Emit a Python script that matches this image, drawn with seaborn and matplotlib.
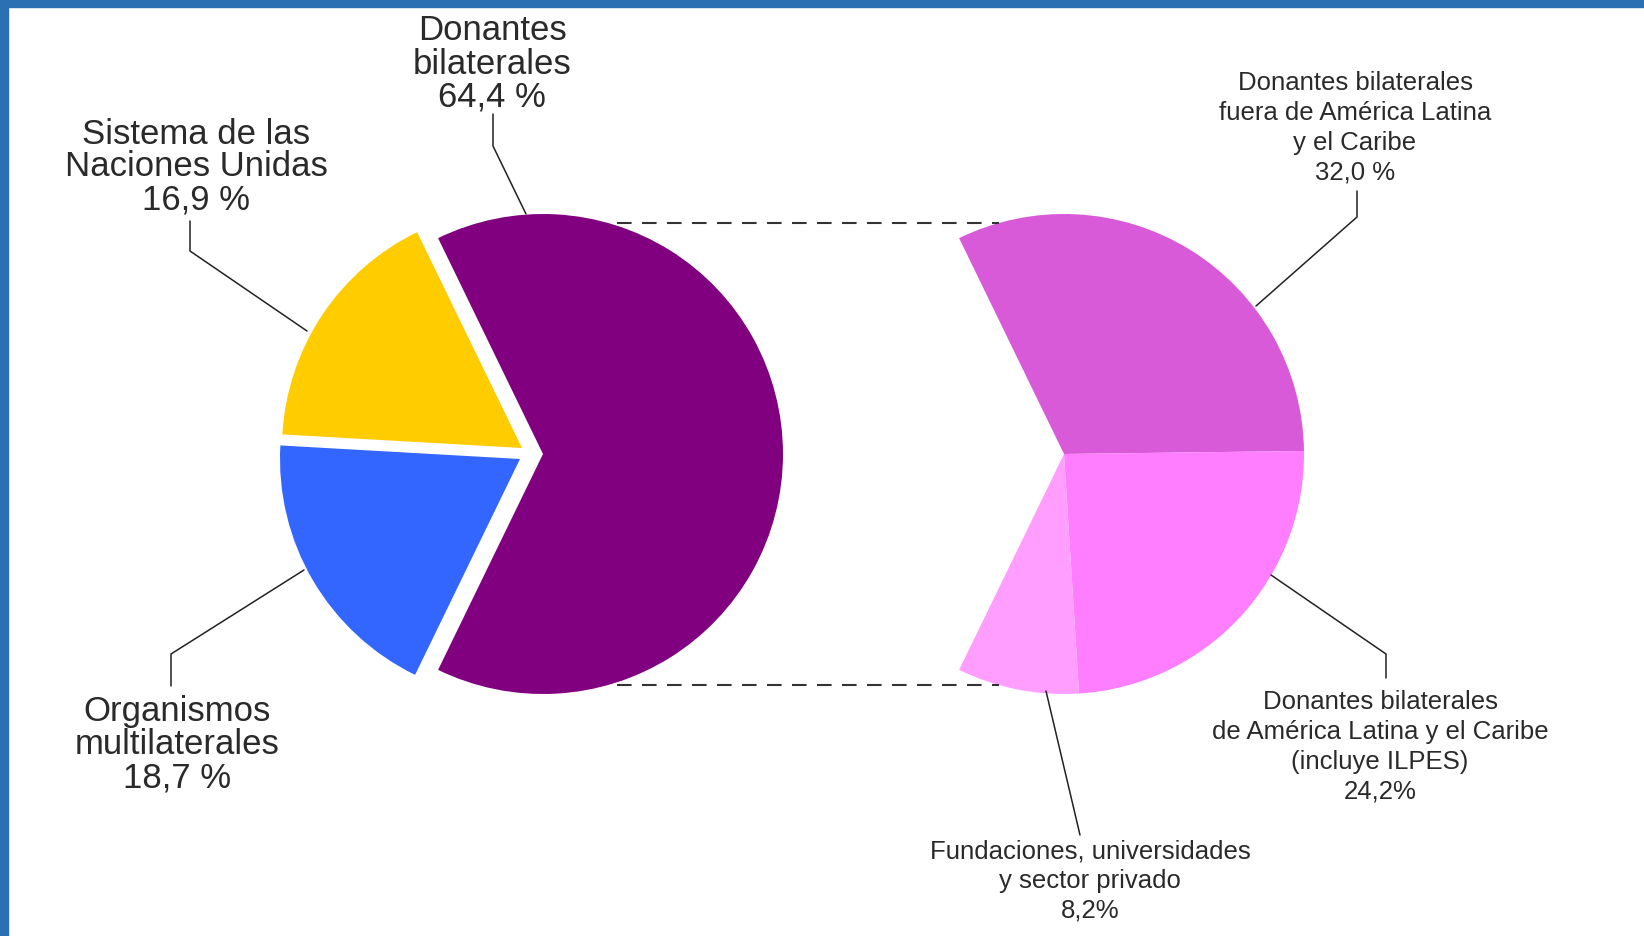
import numpy as np
import matplotlib
matplotlib.use("Agg")
import matplotlib.pyplot as plt
from matplotlib.patches import Rectangle
import seaborn as sns

# data
main_labels = ["Donantes\nbilaterales\n64,4 %", "Sistema de las\nNaciones Unidas\n16,9 %",
               "Organismos\nmultilaterales\n18,7 %"]
main_values = [64.4, 16.9, 18.7]
main_colors = ["#800080", "#FFCC00", "#3366FF"]

sub_labels = ["Donantes bilaterales\nfuera de América Latina\ny el Caribe\n32,0 %",
              "Donantes bilaterales\nde América Latina y el Caribe\n(incluye ILPES)\n24,2%",
              "Fundaciones, universidades\ny sector privado\n8,2%"]
sub_values = [32.0, 24.2, 8.2]
sub_colors = ["#D95AD9", "#FF7DFF", "#FF9EFF"]

sns.set_style("white")
plt.rcParams['font.family'] = ['Liberation Sans', 'DejaVu Sans']

W, H = 1644, 937
fig = plt.figure(figsize=(W / 100, H / 100), dpi=100)
ax = fig.add_axes([0, 0, 1, 1])

def Y(y):
    # picture rows (top down) -> data y
    return H - y

r = 240
c1 = (543, Y(455))
c2 = (1064, Y(455))

# left pie: main split, big slice centred on the right
half = main_values[0] / 100 * 360 / 2
wedges = ax.pie(main_values, colors=main_colors, startangle=-half, counterclock=True,
                center=c1, radius=r, wedgeprops=dict(linewidth=0))[0]
# the two small slices are pulled out mostly to the left
for w, (dx, dy) in zip(wedges[1:], [(-21, 6), (-23, -5)]):
    w.set_center((c1[0] + dx, c1[1] + dy))

# right pie: breakdown of the bilateral donors, same angular span
rest = 100 - sum(sub_values)
ax.pie(sub_values + [rest], colors=sub_colors + ["none"], startangle=half,
       counterclock=False, center=c2, radius=r,
       wedgeprops=dict(linewidth=0))

# dashed connectors between the two pies
a = np.deg2rad(75)
for s in (1, -1):
    yy = c1[1] + s * r * np.sin(a) * 0.995
    ax.plot([c1[0] + r * np.cos(a) + 12, c2[0] - r * np.cos(a) - 3], [yy, yy],
            ls=(0, (7, 5)), color="#333333", lw=1.5)

# leader lines
lk = dict(color="#222222", lw=1.1)
leaders = [
    [(493, 115), (493, 147), (526, 215)],
    [(190, 222), (190, 252), (307, 332)],
    [(171, 687), (171, 655), (304, 571)],
    [(1357, 192), (1357, 218), (1256, 307)],
    [(1386, 679), (1386, 655), (1271, 576)],
    [(1080, 836), (1046, 692)],
]
for pts in leaders:
    ax.plot([p[0] for p in pts], [Y(p[1]) for p in pts], **lk)

# labels
big = dict(fontsize=25, color="#2a2a2a", ha="center", va="center",
           multialignment="center", linespacing=1.0)
ax.text(492, Y(64), main_labels[0], **big)
ax.text(196, Y(167), main_labels[1], **big)
ax.text(177, Y(745), main_labels[2], **big)

small = dict(fontsize=18.5, color="#2a2a2a", ha="center", va="center",
             multialignment="center", linespacing=1.3)
ax.text(1355, Y(128), sub_labels[0], **small)
ax.text(1380, Y(747), sub_labels[1], **small)
ax.text(1090, Y(881), sub_labels[2], **small)

ax.set_xlim(0, W)
ax.set_ylim(0, H)
ax.set_aspect("auto")
ax.axis("off")

# blue frame on top and left
fig.patches.append(Rectangle((0, 1 - 8 / H), 1, 8 / H, transform=fig.transFigure,
                             color="#2A70B2", zorder=10))
fig.patches.append(Rectangle((0, 0), 8 / W, 1, transform=fig.transFigure,
                             color="#2A70B2", zorder=10))

fig.savefig("out.png", dpi=100, facecolor="white")
